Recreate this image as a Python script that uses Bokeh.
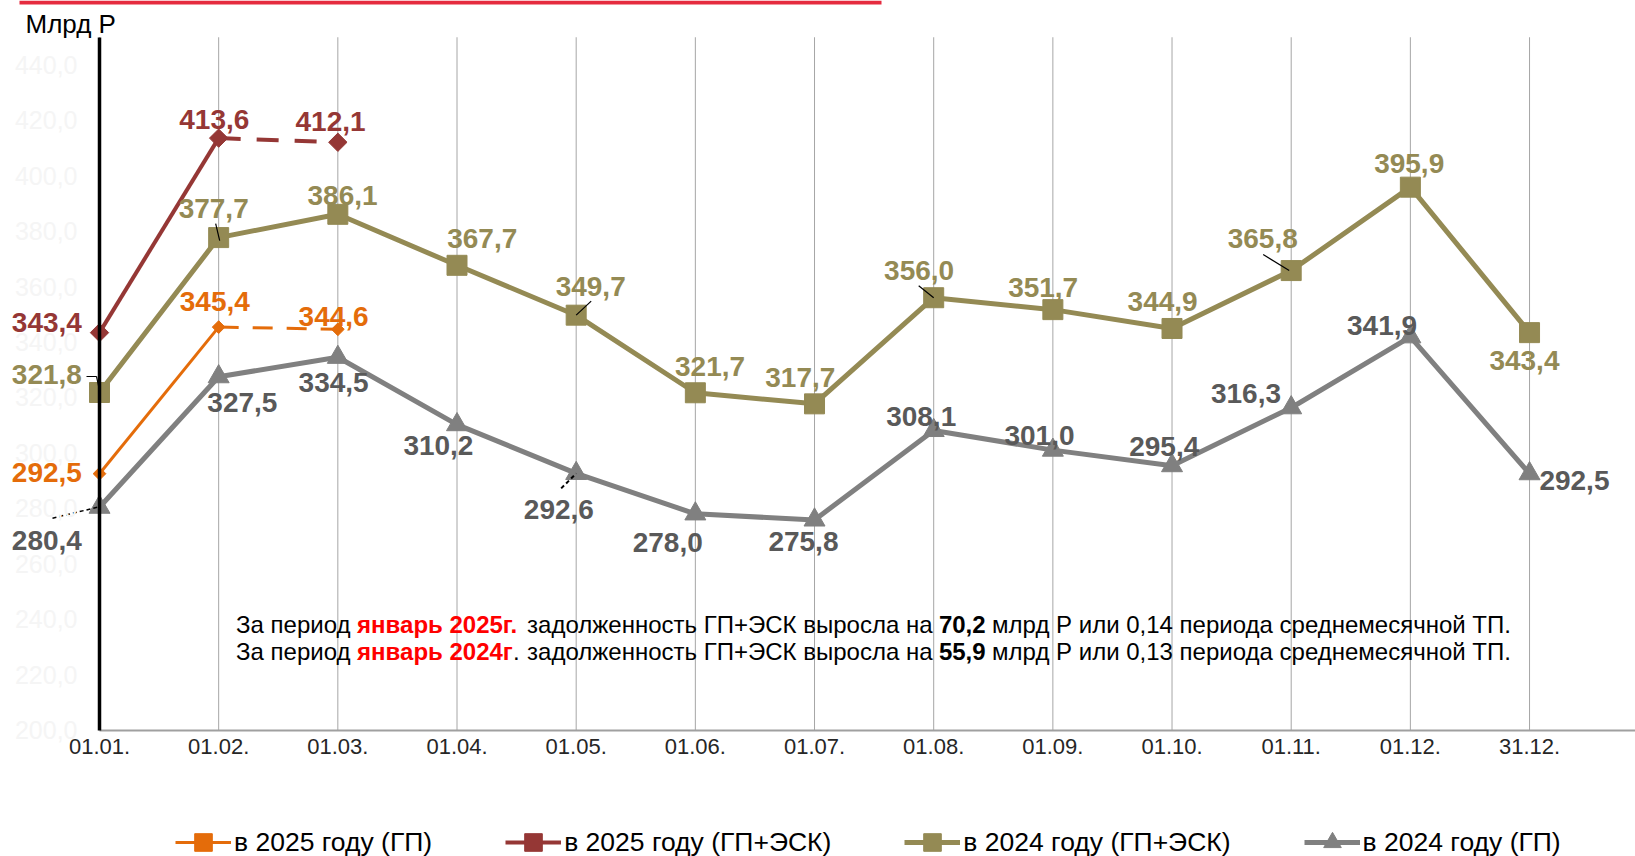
import math
from bokeh.plotting import figure
from bokeh.models import (Range1d, LinearAxis, FixedTicker, Label, Legend,
                          LegendItem, ColumnDataSource, BoxAnnotation)
from bokeh.core.properties import value
from bokeh.embed import file_html
from bokeh.resources import INLINE

# ---------------- data ----------------
dates = ["01.01.", "01.02.", "01.03.", "01.04.", "01.05.", "01.06.", "01.07.",
         "01.08.", "01.09.", "01.10.", "01.11.", "01.12.", "31.12."]
gp_2025 = [292.5, 345.4, 344.6]
gpesk_2025 = [343.4, 413.6, 412.1]
gpesk_2024 = [321.8, 377.7, 386.1, 367.7, 349.7, 321.7, 317.7, 356.0, 351.7,
              344.9, 365.8, 395.9, 343.4]
gp_2024 = [280.4, 327.5, 334.5, 310.2, 292.6, 278.0, 275.8, 308.1, 301.0,
           295.4, 316.3, 341.9, 292.5]
y_ticks = [200, 220, 240, 260, 280, 300, 320, 340, 360, 380, 400, 420, 440]
y_min, y_max = 200, 450
series_names = ["в 2025 году (ГП)", "в 2025 году (ГП+ЭСК)",
                "в 2024 году (ГП+ЭСК)", "в 2024 году (ГП)"]
unit_label = "Млрд Р"
note1 = ["За период", "январь 2025г.", "задолженность ГП+ЭСК выросла на", "70,2",
         "млрд Р или 0,14 периода среднемесячной ТП."]
note2 = ["За период", "январь 2024г", ".", "задолженность ГП+ЭСК выросла на", "55,9",
         "млрд Р или 0,13 периода среднемесячной ТП."]

# ---------------- styles / layout ----------------
FONT = "Liberation Sans"
W, H = 1635, 856
PX_X = 119.17      # px per category
X0 = 99.0          # canvas x of first category
PX_Y = 2.771       # px per unit
Y200 = 729.5       # canvas y of value 200

C_ORANGE = "#E46C0A"
C_RED = "#953735"
C_OLIVE = "#948A54"
C_GRAY = "#808080"
C_GRAY_LBL = "#595959"

# label offsets (screen px) relative to points
red25_dx, red25_dy = [-52.6, -4.4, -7.3], [-10.4, -18.2, -20.3]
org25_dx, org25_dy = [-52.6, -3.9, -4.2], [-1.4, -25.2, -13.3]
olv_dx = [-52.6, -5, 4.7, 25.2, 14.5, 14.7, -14.2, -14.6, -9.7, -9.4, -28.5, -1.2, -5.1]
olv_dy = [-18.2, -29, -19.3, -26.5, -28.5, -25.8, -26.4, -27.7, -21.8, -27.2, -31.8, -23.5, 28.2]
gry_dx = [-52.6, 23.7, -4.2, -18.6, -17.3, -27.6, -11.1, -12.5, -13.4, -7.8, -45.2, -28.3, 44.9]
gry_dy = [32.9, 25.9, 25.5, 20.6, 36.5, 28.3, 21.2, -13.5, -14.3, -19.3, -14.6, -11.5, 7]

x_end = (W - X0) / PX_X
p = figure(width=W, height=H,
           x_range=Range1d(-X0 / PX_X, x_end),
           y_range=Range1d(200 - (H - Y200) / PX_Y, 200 + Y200 / PX_Y),
           output_backend="svg", toolbar_location=None, min_border=0,
           x_axis_type=None, y_axis_type=None, outline_line_color=None,
           background_fill_color="white", border_fill_color="white")

idx = list(range(len(dates)))

# vertical grid lines at categories, limited to the axis span
p.segment(x0=idx, y0=[y_min] * len(idx), x1=idx, y1=[y_max] * len(idx),
          line_color="#A6A6A6", line_width=1)

# axes
xaxis = LinearAxis(fixed_location=y_min, bounds=(0, x_end),
                   ticker=FixedTicker(ticks=idx),
                   major_label_overrides={i: d for i, d in zip(idx, dates)},
                   axis_line_color="#A0A0A0", axis_line_width=2,
                   major_tick_line_color=None, minor_tick_line_color=None,
                   major_tick_out=0, major_tick_in=0, major_label_standoff=9,
                   major_label_text_font=FONT, major_label_text_font_size="22px",
                   major_label_text_color="#262626")
p.add_layout(xaxis, "below")

yaxis = LinearAxis(fixed_location=0, bounds=(y_min, y_max),
                   ticker=FixedTicker(ticks=y_ticks),
                   major_label_overrides={t: f"{t:.1f}".replace(".", ",") for t in y_ticks},
                   axis_line_color="black", axis_line_width=3.5,
                   major_tick_line_color=None, minor_tick_line_color=None,
                   major_tick_out=0, major_tick_in=0, major_label_standoff=22,
                   major_label_text_font=FONT, major_label_text_font_size="25px",
                   major_label_text_color="#F5F5F5")
p.add_layout(yaxis, "left")

# ---------------- lines and markers ----------------
r_gry_line = p.line(idx, gp_2024, line_color=C_GRAY, line_width=5)
r_gry_mk = p.scatter(idx, gp_2024, marker="triangle", size=21, fill_color=C_GRAY, line_color=C_GRAY)

r_olv_line = p.line(idx, gpesk_2024, line_color=C_OLIVE, line_width=5)
r_olv_mk = p.scatter(idx, gpesk_2024, marker="square", size=20, fill_color=C_OLIVE, line_color=C_OLIVE)

r_org_line = p.line(idx[:2], gp_2025[:2], line_color=C_ORANGE, line_width=3)
p.line(idx[1:3], gp_2025[1:3], line_color=C_ORANGE, line_width=3, line_dash="20 14")
r_org_mk = p.scatter(idx[:3], gp_2025, marker="square", angle=math.pi / 4, size=9,
                     fill_color=C_ORANGE, line_color=C_ORANGE)

r_red_line = p.line(idx[:2], gpesk_2025[:2], line_color=C_RED, line_width=4)
p.line(idx[1:3], gpesk_2025[1:3], line_color=C_RED, line_width=4, line_dash="22 16")
r_red_mk = p.scatter(idx[:3], gpesk_2025, marker="square", angle=math.pi / 4, size=13,
                     fill_color=C_RED, line_color=C_RED)

# leader lines (from point, offsets in px)
def leader(i, v, dx0, dy0, dx1, dy1, color="black", dash="solid", width=1.2):
    p.segment(x0=[i + dx0 / PX_X], y0=[v - dy0 / PX_Y],
              x1=[i + dx1 / PX_X], y1=[v - dy1 / PX_Y],
              line_color=color, line_width=width, line_dash=dash)

leader(1, gpesk_2024[1], -3, -14, 1, 3)
leader(4, gpesk_2024[4], 15, -14, 0, 0)
leader(7, gpesk_2024[7], -15, -12, 0, 0)
leader(10, gpesk_2024[10], -28, -16, -2, 0)
leader(0, gpesk_2024[0], -13, -16, -3, -16)
leader(0, gpesk_2024[0], -3, -16, 0, -2)
leader(4, gp_2024[4], -15, 15, 0, 0, dash="4 3", width=2)
leader(0, gp_2024[0], -47, 11, -2, 0, dash="4 3", width=1.5)

# ---------------- data labels ----------------
def fmt(v):
    return f"{v:.1f}".replace(".", ",")

def add_labels(vals, dx, dy, color):
    src = ColumnDataSource(dict(x=idx[:len(vals)], y=vals, t=[fmt(v) for v in vals],
                                dx=dx, dy=dy))
    p.text(x="x", y="y", text="t", x_offset="dx", y_offset="dy", source=src,
           text_color=color, text_font=value(FONT), text_font_style="bold",
           text_font_size="28px", text_align="center", text_baseline="middle")

add_labels(gp_2024, gry_dx, gry_dy, C_GRAY_LBL)
add_labels(gpesk_2024, olv_dx, olv_dy, C_OLIVE)
add_labels(gp_2025, org25_dx, org25_dy, C_ORANGE)
add_labels(gpesk_2025, red25_dx, red25_dy, C_RED)

# ---------------- texts ----------------
p.add_layout(Label(x=25, y=H - 23, x_units="screen", y_units="screen", text=unit_label,
                   text_font=FONT, text_font_size="26px", text_color="black",
                   text_baseline="middle"))

note1_x = [235.6, 356.6, 526.6, 938.4, 991.6]
note1_c = ["black", "#FF0000", "black", "black", "black"]
note1_b = ["normal", "bold", "normal", "bold", "normal"]
note2_x = [235.6, 356.6, 512.5, 526.6, 938.4, 991.6]
note2_c = ["black", "#FF0000", "black", "black", "black", "black"]
note2_b = ["normal", "bold", "normal", "normal", "bold", "normal"]
for txts, xs, cs, bs, yc in [(note1, note1_x, note1_c, note1_b, 623.5),
                             (note2, note2_x, note2_c, note2_b, 650.6)]:
    for t, x, c, b in zip(txts, xs, cs, bs):
        p.add_layout(Label(x=x, y=H - yc, x_units="screen", y_units="screen", text=t,
                           text_font=FONT, text_font_size="24px", text_color=c,
                           text_font_style=b, text_baseline="middle"))

# red bar at the top
p.add_layout(BoxAnnotation(left=19, right=881, top=H, bottom=H - 4,
                           left_units="screen", right_units="screen",
                           top_units="screen", bottom_units="screen",
                           fill_color="#E52B3F", fill_alpha=1, line_color=None))

# ---------------- legend ----------------
legend = Legend(items=[
    LegendItem(label=series_names[0], renderers=[r_org_line, r_org_mk]),
    LegendItem(label=series_names[1], renderers=[r_red_line, r_red_mk]),
    LegendItem(label=series_names[2], renderers=[r_olv_line, r_olv_mk]),
    LegendItem(label=series_names[3], renderers=[r_gry_line, r_gry_mk]),
], orientation="horizontal", location=(175, -8), glyph_width=56, glyph_height=44,
    label_standoff=3, spacing=73, padding=0, margin=0, border_line_color=None,
    background_fill_alpha=0, label_text_font=FONT, label_text_font_size="26.5px",
    label_text_color="black", label_height=44)
p.add_layout(legend)

open("out.html", "w").write(file_html(p, INLINE))
